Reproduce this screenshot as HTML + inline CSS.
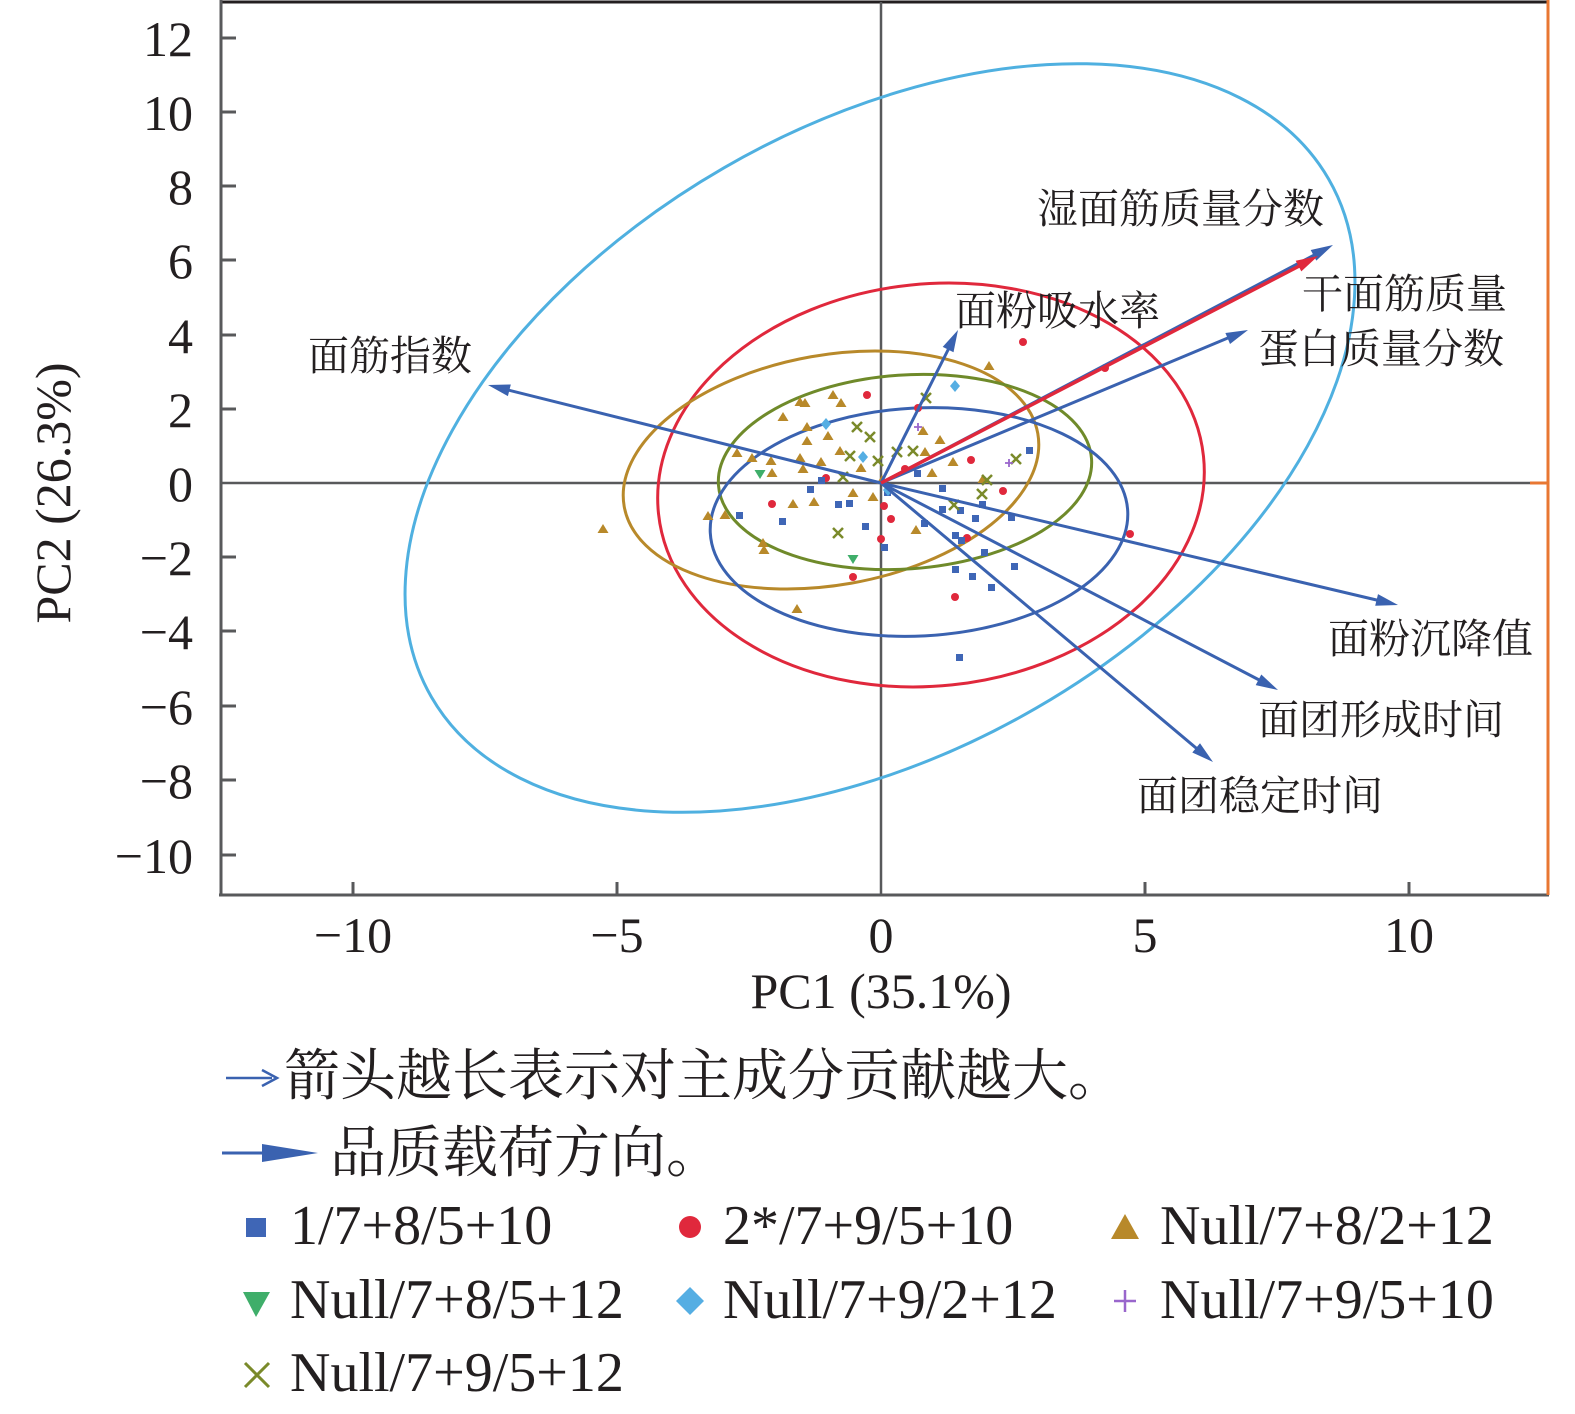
<!DOCTYPE html>
<html><head><meta charset="utf-8"><style>
html,body{margin:0;padding:0;background:#fff;width:1575px;height:1414px;overflow:hidden;}
svg{display:block;}
.t{font-family:"Liberation Serif","Noto Serif CJK SC",serif;fill:#231f20;}
.c{font-family:"Liberation Serif","Noto Serif CJK SC",serif;fill:#231f20;font-size:41px;}
</style></head><body>
<svg width="1575" height="1414" viewBox="0 0 1575 1414" xmlns="http://www.w3.org/2000/svg">

<line x1="221" y1="2" x2="1548" y2="2" stroke="#231f20" stroke-width="3"/>
<line x1="221" y1="0" x2="221" y2="896" stroke="#58595b" stroke-width="3"/>
<line x1="219" y1="895" x2="1549" y2="895" stroke="#58595b" stroke-width="3"/>
<line x1="1548" y1="0" x2="1548" y2="895" stroke="#e87732" stroke-width="3"/>
<line x1="1530" y1="483" x2="1548" y2="483" stroke="#e87732" stroke-width="3"/>
<line x1="221" y1="483" x2="1530" y2="483" stroke="#58595b" stroke-width="2.5"/>
<line x1="881" y1="2" x2="881" y2="895" stroke="#58595b" stroke-width="2.5"/>
<g stroke="#58595b" stroke-width="3">
<line x1="221" y1="38" x2="236" y2="38"/><line x1="221" y1="112" x2="236" y2="112"/><line x1="221" y1="186" x2="236" y2="186"/><line x1="221" y1="260" x2="236" y2="260"/><line x1="221" y1="335" x2="236" y2="335"/><line x1="221" y1="409" x2="236" y2="409"/><line x1="221" y1="557" x2="236" y2="557"/><line x1="221" y1="631" x2="236" y2="631"/><line x1="221" y1="706" x2="236" y2="706"/><line x1="221" y1="780" x2="236" y2="780"/><line x1="221" y1="855" x2="236" y2="855"/>
<line x1="353" y1="895" x2="353" y2="882"/><line x1="617" y1="895" x2="617" y2="882"/><line x1="1145" y1="895" x2="1145" y2="882"/><line x1="1409" y1="895" x2="1409" y2="882"/>
</g>
<g class="t" font-size="50" text-anchor="end">
<text x="193" y="56">12</text><text x="193" y="130">10</text><text x="193" y="204">8</text><text x="193" y="278">6</text><text x="193" y="353">4</text><text x="193" y="427">2</text><text x="193" y="501">0</text><text x="193" y="575">−2</text><text x="193" y="649">−4</text><text x="193" y="724">−6</text><text x="193" y="798">−8</text><text x="193" y="873">−10</text>
</g>
<g class="t" font-size="50" text-anchor="middle">
<text x="353" y="952">−10</text><text x="617" y="952">−5</text><text x="881" y="952">0</text><text x="1145" y="952">5</text><text x="1409" y="952">10</text>
<text x="881" y="1008">PC1 (35.1%)</text>
<text transform="translate(70,493) rotate(-90)">PC2 (26.3%)</text>
</g>

<g fill="none" stroke-width="3">
<ellipse cx="880" cy="438" rx="518" ry="312" transform="rotate(-30 880 438)" stroke="#4fb0e0"/>
<ellipse cx="931" cy="485" rx="274" ry="201" transform="rotate(-6 931 485)" stroke="#e0283c"/>
<ellipse cx="831" cy="470" rx="210" ry="115" transform="rotate(-10 831 470)" stroke="#b8892a"/>
<ellipse cx="905" cy="472" rx="187" ry="97" transform="rotate(-4 905 472)" stroke="#6f8a2a"/>
<ellipse cx="919" cy="522" rx="209" ry="114" transform="rotate(-3 919 522)" stroke="#3a62b0"/>
</g>

<g fill="#b8892a">
<path d="M833,390l5.5,9h-11z"/><path d="M805,398l5.5,9h-11z"/><path d="M841,398l5.5,9h-11z"/><path d="M783,412l5.5,9h-11z"/><path d="M807,422l5.5,9h-11z"/><path d="M828,431l5.5,9h-11z"/><path d="M807,436l5.5,9h-11z"/><path d="M840,446l5.5,9h-11z"/><path d="M737,448l5.5,9h-11z"/><path d="M752,453l5.5,9h-11z"/><path d="M771,456l5.5,9h-11z"/><path d="M800,453l5.5,9h-11z"/><path d="M821,457l5.5,9h-11z"/><path d="M803,464l5.5,9h-11z"/><path d="M861,463l5.5,9h-11z"/><path d="M772,468l5.5,9h-11z"/><path d="M923,426l5.5,9h-11z"/><path d="M940,435l5.5,9h-11z"/><path d="M925,447l5.5,9h-11z"/><path d="M953,457l5.5,9h-11z"/><path d="M932,468l5.5,9h-11z"/><path d="M983,474l5.5,9h-11z"/><path d="M853,488l5.5,9h-11z"/><path d="M873,492l5.5,9h-11z"/><path d="M793,499l5.5,9h-11z"/><path d="M814,497l5.5,9h-11z"/><path d="M708,511l5.5,9h-11z"/><path d="M725,510l5.5,9h-11z"/><path d="M916,525l5.5,9h-11z"/><path d="M763,538l5.5,9h-11z"/><path d="M764,545l5.5,9h-11z"/><path d="M603,524l5.5,9h-11z"/><path d="M797,604l5.5,9h-11z"/><path d="M989,361l5.5,9h-11z"/><path d="M800,397l5.5,9h-11z"/><path d="M882,475l5.5,9h-11z"/>
</g>
<g fill="#e0283c">
<circle cx="867" cy="395" r="4"/><circle cx="918" cy="408" r="4"/><circle cx="905" cy="469" r="4"/><circle cx="971" cy="460" r="4"/><circle cx="826" cy="478" r="4"/><circle cx="1003" cy="491" r="4"/><circle cx="772" cy="504" r="4"/><circle cx="884" cy="506" r="4"/><circle cx="891" cy="519" r="4"/><circle cx="967" cy="538" r="4"/><circle cx="881" cy="539" r="4"/><circle cx="853" cy="577" r="4"/><circle cx="955" cy="597" r="4"/><circle cx="1023" cy="342" r="4"/><circle cx="1105" cy="368" r="4"/><circle cx="1130" cy="534" r="4"/>
</g>
<g fill="#3f66b6">
<rect x="818" y="477" width="7" height="7"/><rect x="807" y="486" width="7" height="7"/><rect x="835" y="501" width="7" height="7"/><rect x="846" y="500" width="7" height="7"/><rect x="736" y="512" width="7" height="7"/><rect x="779" y="518" width="7" height="7"/><rect x="862" y="523" width="7" height="7"/><rect x="881" y="544" width="7" height="7"/><rect x="914" y="470" width="7" height="7"/><rect x="939" y="485" width="7" height="7"/><rect x="939" y="506" width="7" height="7"/><rect x="957" y="507" width="7" height="7"/><rect x="979" y="501" width="7" height="7"/><rect x="1008" y="514" width="7" height="7"/><rect x="972" y="515" width="7" height="7"/><rect x="921" y="520" width="7" height="7"/><rect x="952" y="532" width="7" height="7"/><rect x="958" y="537" width="7" height="7"/><rect x="981" y="549" width="7" height="7"/><rect x="1011" y="563" width="7" height="7"/><rect x="952" y="566" width="7" height="7"/><rect x="969" y="573" width="7" height="7"/><rect x="988" y="584" width="7" height="7"/><rect x="1026" y="447" width="7" height="7"/><rect x="884" y="489" width="7" height="7"/><rect x="956" y="654" width="7" height="7"/>
</g>
<g fill="#55aee3">
<path d="M955,380l5,6l-5,6l-5,-6z"/><path d="M826,418l5,6l-5,6l-5,-6z"/><path d="M863,451l5,6l-5,6l-5,-6z"/><path d="M888,484l5,6l-5,6l-5,-6z"/>
</g>
<g fill="#3fae6a"><path d="M760,479l5.5,-9h-11z"/><path d="M853,564l5.5,-9h-11z"/></g>
<g stroke="#7a8a2a" stroke-width="2.5">
<path d="M921,393l10,10m0,-10l-10,10"/><path d="M852,422l10,10m0,-10l-10,10"/><path d="M865,432l10,10m0,-10l-10,10"/><path d="M892,447l10,10m0,-10l-10,10"/><path d="M908,446l10,10m0,-10l-10,10"/><path d="M845,451l10,10m0,-10l-10,10"/><path d="M873,456l10,10m0,-10l-10,10"/><path d="M838,472l10,10m0,-10l-10,10"/><path d="M1011,454l10,10m0,-10l-10,10"/><path d="M982,475l10,10m0,-10l-10,10"/><path d="M977,489l10,10m0,-10l-10,10"/><path d="M949,500l10,10m0,-10l-10,10"/><path d="M833,528l10,10m0,-10l-10,10"/>
</g>
<g stroke="#9966cc" stroke-width="1.8"><path d="M1005,463h8m-4,-4v8"/><path d="M914,427h8m-4,-4v8"/></g>

<g stroke-width="3" fill="none" stroke="#3a62b0">
<line x1="881" y1="483" x2="500" y2="388"/>
<line x1="881" y1="483" x2="952" y2="342"/>
<line x1="881" y1="483" x2="1320" y2="252"/>
<line x1="881" y1="483" x2="1235" y2="335"/>
<line x1="881" y1="483" x2="1385" y2="602"/>
<line x1="881" y1="483" x2="1265" y2="683"/>
<line x1="881" y1="483" x2="1202" y2="753"/>
<line x1="881" y1="483" x2="1305" y2="263" stroke="#e0283c" stroke-width="3.5"/>
</g>
<g fill="#3a62b0">
<polygon points="488,385 510.8,384.5 507.9,396.1"/>
<polygon points="958,330 953.5,352.3 942.7,346.9"/>
<polygon points="1333,245 1316.3,260.6 1310.7,250"/>
<polygon points="1248,330 1230,344 1225.4,333"/>
<polygon points="1398,605 1375.2,605.7 1378,594.1"/>
<polygon points="1278,690 1255.7,685.1 1261.3,674.5"/>
<polygon points="1213,762 1192.3,752.5 1200,743.3"/>
</g>
<polygon points="1318,256 1301.3,271.4 1295.7,260.8" fill="#e0283c"/>
<g class="c">
<text x="1037" y="223">湿面筋质量分数</text>
<text x="1302" y="308">干面筋质量</text>
<text x="1258" y="363">蛋白质量分数</text>
<text x="955" y="325">面粉吸水率</text>
<text x="308" y="370">面筋指数</text>
<text x="1328" y="653">面粉沉降值</text>
<text x="1258" y="734">面团形成时间</text>
<text x="1137" y="810">面团稳定时间</text>
</g>

<line x1="226" y1="1078" x2="272" y2="1078" stroke="#3a62b0" stroke-width="2.5"/>
<path d="M262,1070 L277,1078 L262,1086" stroke="#3a62b0" stroke-width="2.5" fill="none"/>
<text class="t" x="284" y="1095" font-size="56">箭头越长表示对主成分贡献越大。</text>
<line x1="222" y1="1153" x2="270" y2="1153" stroke="#3a62b0" stroke-width="3"/>
<path d="M262,1144 L318,1153 L262,1162z" fill="#3a62b0"/>
<text class="t" x="330" y="1172" font-size="56">品质载荷方向。</text>

<g class="t" font-size="56">
<rect x="246" y="1218" width="20" height="19" fill="#3f66b6"/>
<text x="290" y="1244">1/7+8/5+10</text>
<circle cx="690" cy="1227" r="11" fill="#e0283c"/>
<text x="723" y="1244">2*/7+9/5+10</text>
<path d="M1125,1214 L1139,1239 L1111,1239z" fill="#b8892a"/>
<text x="1160" y="1244">Null/7+8/2+12</text>
<path d="M243,1292 L270,1292 L256,1317z" fill="#3fae6a"/>
<text x="290" y="1318">Null/7+8/5+12</text>
<path d="M690,1287 L704,1301 L690,1315 L676,1301z" fill="#55aee3"/>
<text x="723" y="1318">Null/7+9/2+12</text>
<path d="M1114,1301 L1136,1301 M1125,1290 L1125,1312" stroke="#9966cc" stroke-width="2.5"/>
<text x="1160" y="1318">Null/7+9/5+10</text>
<path d="M245,1363 L269,1387 M269,1363 L245,1387" stroke="#7a8a2a" stroke-width="3"/>
<text x="290" y="1391">Null/7+9/5+12</text>
</g>
</svg>
</body></html>
